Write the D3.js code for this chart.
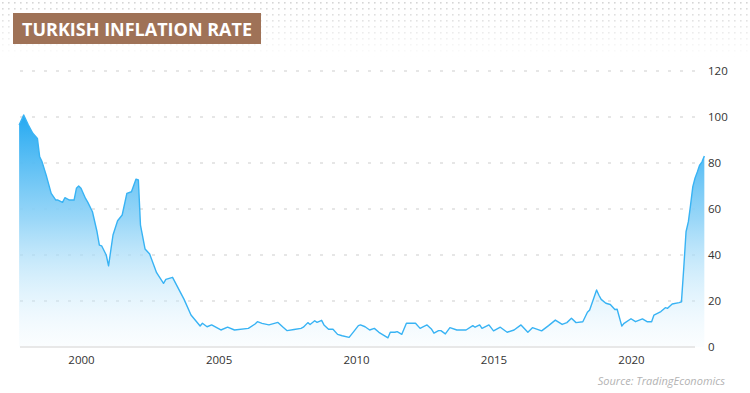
<!DOCTYPE html>
<html>
<head>
<meta charset="utf-8">
<script src="https://cdn.jsdelivr.net/npm/d3@7"></script>
<style>
  body { margin: 0; background: #fff; }
  svg { display: block; font-family: "Open Sans", sans-serif; }
</style>
</head>
<body>
<div id="chart"></div>
<script>
// monthly readings (year-month) and inflation rate in %
const months = [
  "1997-10","1997-12","1998-02","1998-04","1998-06","1998-07","1998-08","1998-10","1998-12",
  "1999-02","1999-03","1999-05","1999-06","1999-08","1999-10","1999-11","1999-12",
  "2000-01","2000-03","2000-04","2000-06","2000-08","2000-09","2000-10","2000-12",
  "2001-01","2001-03","2001-05","2001-07","2001-09","2001-11",
  "2002-01","2002-02","2002-03","2002-05","2002-07","2002-10",
  "2003-01","2003-02","2003-05","2003-10",
  "2004-01","2004-05","2004-06","2004-08","2004-10",
  "2005-02","2005-05","2005-08",
  "2006-02","2006-05","2006-06","2006-08","2006-11",
  "2007-03","2007-05","2007-07","2007-10",
  "2008-01","2008-02","2008-04","2008-05","2008-07","2008-08","2008-10","2008-11",
  "2009-01","2009-03","2009-05","2009-07","2009-10","2009-12",
  "2010-02","2010-03","2010-05","2010-07","2010-09","2010-11",
  "2011-03","2011-04","2011-06","2011-07","2011-09","2011-11",
  "2012-03","2012-05","2012-06","2012-08","2012-10","2012-11",
  "2013-01","2013-02","2013-04","2013-06","2013-09",
  "2014-01","2014-04","2014-05","2014-07","2014-08","2014-11",
  "2015-01","2015-04","2015-07","2015-10",
  "2016-01","2016-04","2016-06","2016-10",
  "2017-01","2017-04","2017-07","2017-09","2017-11",
  "2018-01","2018-04","2018-06","2018-07","2018-10","2018-11","2018-12",
  "2019-02","2019-04","2019-06","2019-07","2019-09","2019-10",
  "2020-01","2020-03","2020-06","2020-08","2020-10","2020-11",
  "2021-02","2021-04","2021-05","2021-07","2021-10","2021-11","2021-12",
  "2022-01","2022-02","2022-03","2022-04","2022-05","2022-06","2022-07","2022-08","2022-09"
];
const rates = [
  96.5,100.9,96.5,92.9,90.7,82.7,80.6,74.1,66.8,
  63.9,63.9,62.9,64.9,63.9,63.9,69.0,70.0,
  69.0,64.6,62.9,58.8,50.1,44.3,44.0,40.0,
  35.3,48.7,54.9,57.4,66.8,67.5,
  73.0,72.6,53.0,42.6,40.4,32.3,
  27.7,29.4,30.3,20.7,
  13.9,9.1,10.3,8.8,9.6,
  7.4,8.6,7.4,
  8.1,10.0,11.0,10.3,9.6,
  10.7,8.8,7.1,7.6,
  8.1,8.6,10.6,9.8,11.4,10.7,11.6,9.6,
  7.7,7.7,5.5,4.9,4.2,6.7,
  9.3,9.6,8.8,7.4,8.1,6.4,
  4.0,6.4,6.4,6.7,5.5,10.3,
  10.3,8.1,8.6,9.6,7.7,6.0,
  7.1,7.1,5.7,8.4,7.4,
  7.4,9.3,8.6,9.6,8.1,9.6,
  7.0,8.6,6.4,7.4,
  9.6,6.4,8.4,7.0,
  9.3,11.7,9.8,10.6,12.5,
  10.6,11.0,15.1,16.1,24.8,22.5,20.7,
  19.0,18.5,16.3,16.4,9.1,10.3,
  12.3,11.0,12.2,11.0,11.0,13.9,
  15.4,17.1,16.8,18.7,19.3,19.6,34.0,
  50.1,54.5,61.5,69.7,73.5,76.2,79.1,80.5,83.0
];
const yTicks = [0, 20, 40, 60, 80, 100, 120];
const xTickYears = [2000, 2005, 2010, 2015, 2020];

const width = 750, height = 393;
const parseMonth = d3.timeParse("%Y-%m");
const data = months.map((m, i) => ({ date: parseMonth(m), value: rates[i] }));

const svg = d3.select("#chart").append("svg")
  .attr("width", width)
  .attr("height", height);

const defs = svg.append("defs");

// dotted header pattern, fading out downward
const pat = defs.append("pattern")
  .attr("id", "dots")
  .attr("width", 6).attr("height", 6)
  .attr("patternUnits", "userSpaceOnUse");
pat.append("rect").attr("x", 2).attr("y", 2).attr("width", 1.6).attr("height", 1.6).attr("fill", "#d4d4d4");

const fade = defs.append("linearGradient")
  .attr("id", "fade").attr("x1", 0).attr("y1", 0).attr("x2", 0).attr("y2", 1);
fade.append("stop").attr("offset", "0%").attr("stop-color", "#fff").attr("stop-opacity", 1);
fade.append("stop").attr("offset", "100%").attr("stop-color", "#fff").attr("stop-opacity", 0);
defs.append("mask").attr("id", "fadeMask")
  .append("rect").attr("width", width).attr("height", 58).attr("fill", "url(#fade)");

svg.append("rect").attr("width", width).attr("height", height).attr("fill", "#fff");
svg.append("rect").attr("width", width).attr("height", 58)
  .attr("fill", "url(#dots)").attr("mask", "url(#fadeMask)");

// scales
const x = d3.scaleTime()
  .domain([new Date(2000, 0, 1), new Date(2020, 0, 1)])
  .range([81, 631]);
const y = d3.scaleLinear().domain([0, 120]).range([347, 71]);

const plotLeft = 20, plotRight = 695;

// area gradient
const grad = defs.append("linearGradient")
  .attr("id", "areaGrad")
  .attr("gradientUnits", "userSpaceOnUse")
  .attr("x1", 0).attr("x2", 0)
  .attr("y1", y(102)).attr("y2", y(0));
grad.append("stop").attr("offset", "0%").attr("stop-color", "#22a8f1").attr("stop-opacity", 1);
grad.append("stop").attr("offset", "45%").attr("stop-color", "#8dd2f7").attr("stop-opacity", 0.9);
grad.append("stop").attr("offset", "100%").attr("stop-color", "#e3f4fd").attr("stop-opacity", 0.15);

// gridlines
svg.append("g").selectAll("line")
  .data(yTicks.filter(d => d > 0))
  .join("line")
  .attr("x1", plotLeft).attr("x2", plotRight)
  .attr("y1", d => y(d)).attr("y2", d => y(d))
  .attr("stroke", "#e6e6e6")
  .attr("stroke-width", 2)
  .attr("stroke-dasharray", "3,9");

// area + line
const area = d3.area()
  .x(d => x(d.date))
  .y0(y(0))
  .y1(d => y(d.value));
const line = d3.line()
  .x(d => x(d.date))
  .y(d => y(d.value));

svg.append("path")
  .datum(data)
  .attr("d", area)
  .attr("fill", "url(#areaGrad)");

svg.append("path")
  .datum(data)
  .attr("d", line)
  .attr("fill", "none")
  .attr("stroke", "#38b3f4")
  .attr("stroke-width", 1.4)
  .attr("stroke-linejoin", "round");

// baseline
svg.append("line")
  .attr("x1", plotLeft).attr("x2", plotRight)
  .attr("y1", y(0)).attr("y2", y(0))
  .attr("stroke", "#e8e8e8")
  .attr("stroke-width", 2);

// y axis on the right
const yAxis = svg.append("g")
  .attr("transform", `translate(704, 0)`)
  .call(d3.axisRight(y).tickValues(yTicks).tickSize(0).tickPadding(4));
yAxis.select(".domain").remove();
yAxis.selectAll("text")
  .attr("font-family", "Open Sans, sans-serif")
  .attr("font-size", 11.5)
  .attr("fill", "#333");

// x axis
const xAxis = svg.append("g")
  .attr("transform", `translate(0, ${y(0)})`)
  .call(d3.axisBottom(x)
    .tickValues(xTickYears.map(yr => new Date(yr, 0, 1)))
    .tickFormat(d3.timeFormat("%Y"))
    .tickSize(0).tickPadding(9));
xAxis.select(".domain").remove();
xAxis.selectAll("text")
  .attr("font-family", "Open Sans, sans-serif")
  .attr("font-size", 11.5)
  .attr("fill", "#333");

// title
svg.append("rect")
  .attr("x", 13).attr("y", 13)
  .attr("width", 248).attr("height", 31)
  .attr("fill", "#9f7257");
svg.append("text")
  .attr("x", 22).attr("y", 35.5)
  .attr("font-size", 17.5)
  .attr("font-weight", 700)
  .attr("fill", "#fff")
  .attr("textLength", 230)
  .attr("lengthAdjust", "spacingAndGlyphs")
  .text("TURKISH INFLATION RATE");

// source
svg.append("text")
  .attr("x", 725).attr("y", 385)
  .attr("text-anchor", "end")
  .attr("font-size", 11)
  .attr("font-style", "italic")
  .attr("fill", "#b3b3b3")
  .text("Source: TradingEconomics");
</script>
</body>
</html>
